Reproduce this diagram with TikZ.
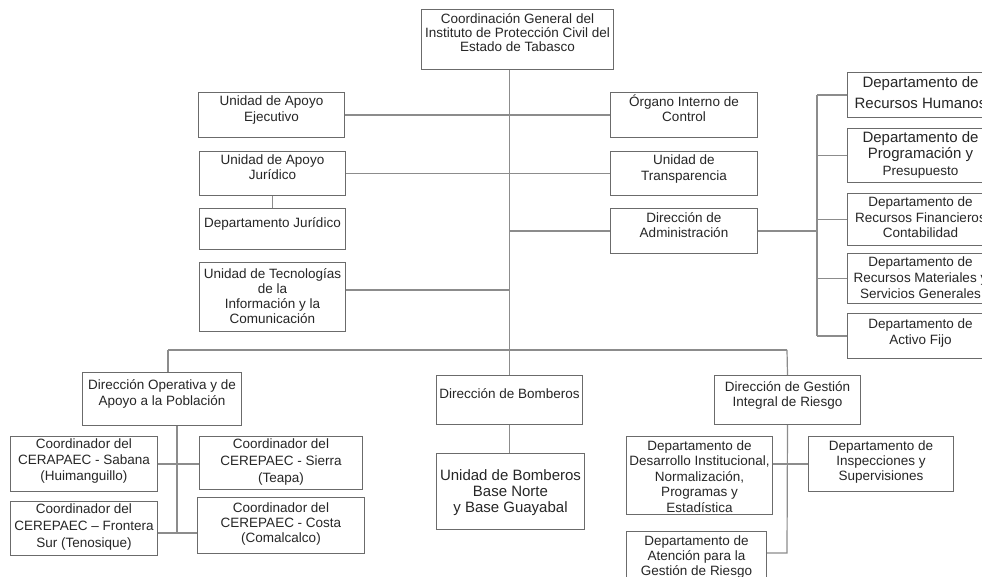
\documentclass[tikz,border=0pt]{standalone}
\usepackage{fontspec}
\setmainfont{Liberation Sans}
\usepackage{xcolor}
\definecolor{boxgray}{gray}{0.42}
\definecolor{linkgray}{gray}{0.55}
\newcommand{\bx}[5][15.5]{\parbox[b][#3pt][t]{#2pt}{\centering\fontsize{13.5}{#1}\selectfont\lineskiplimit=-20pt\rule{0pt}{#4pt}#5\par}}
\tikzset{
  unit/.style={draw=boxgray, line width=1pt, inner sep=0pt, anchor=north west, text=black!85},
  link/.style={draw=linkgray, line width=1.2pt}
}

\begin{document}
\begin{tikzpicture}[x=1pt, y=-1pt]
        \fill[white] (0,0) rectangle (982,577);
        \useasboundingbox (0,0) rectangle (982,577);
        \node[unit] (coord) at (421,9) {\bx[14]{192}{60}{14.5}{Coordinación General del\\Instituto de Protección Civil del\\Estado de Tabasco}};
        \node[unit] (ejec) at (198,92) {\bx[16]{146}{45}{13.5}{Unidad de Apoyo\\Ejecutivo}};
        \node[unit] (jur) at (199,151) {\bx[15]{146}{44}{13.5}{Unidad de Apoyo\\Jurídico}};
        \node[unit] (djur) at (199,208) {\bx{146}{41}{19.5}{Departamento Jurídico}};
        \node[unit] (tic) at (199,262) {\bx[15.3]{146}{69}{15.5}{Unidad de Tecnologías\\de la\\Información y la\\Comunicación}};
        \node[unit] (oic) at (610,92) {\bx[15]{147}{45}{14.5}{Órgano Interno de\\Control}};
        \node[unit] (transp) at (610,151) {\bx[16]{147}{44}{13.5}{Unidad de\\Transparencia}};
        \node[unit] (adm) at (610,208) {\bx[15]{147}{45}{14.5}{Dirección de\\Administración}};
        \node[unit] (rh) at (847,72) {\bx[21]{146}{45}{15}{\fontsize{15}{21}\selectfont Departamento de\\Recursos Humanos}};
        \node[unit] (prog) at (847,128) {\bx[16.5]{146}{54}{14}{\fontsize{15}{16.5}\selectfont Departamento de\\Programación y\\\fontsize{13.5}{16.5}\selectfont Presupuesto}};
        \node[unit] (fin) at (847,193) {\bx[15.5]{146}{52}{13.5}{Departamento de\\Recursos Financieros\\Contabilidad}};
        \node[unit] (mat) at (847,253) {\bx[15.5]{146}{50}{13.5}{Departamento de\\Recursos Materiales y\\Servicios Generales}};
        \node[unit] (fijo) at (847,313) {\bx[16]{146}{45}{14.5}{Departamento de\\Activo Fijo}};
        \node[unit] (oper) at (82,372) {\bx[16]{159}{53}{16.5}{Dirección Operativa y de\\Apoyo a la Población}};
        \node[unit] (bomb) at (436,375) {\bx{146}{49}{22.5}{Dirección de Bomberos}};
        \node[unit] (ubomb) at (436,453) {\bx[16]{148}{76}{27}{\fontsize{15}{16}\selectfont Unidad de Bomberos\\Base Norte\\y Base Guayabal}};
        \node[unit] (gest) at (714,375) {\bx[15]{146}{49}{15.5}{Dirección de Gestión\\Integral de Riesgo}};
        \node[unit] (sab) at (10,436) {\bx[16]{147}{55}{11.5}{Coordinador del\\CERAPAEC - Sabana\\(Huimanguillo)}};
        \node[unit] (sie) at (199,436) {\bx[17]{163}{53}{11.5}{Coordinador del\\CEREPAEC - Sierra\\(Teapa)}};
        \node[unit] (fro) at (10,501) {\bx[17]{147}{54}{11.5}{Coordinador del\\CEREPAEC – Frontera\\Sur (Tenosique)}};
        \node[unit] (cos) at (197,497) {\bx[15]{167}{56}{14.5}{Coordinador del\\CEREPAEC - Costa\\(Comalcalco)}};
        \node[unit] (des) at (626,436) {\bx[15.5]{146}{78}{13.5}{Departamento de\\Desarrollo Institucional,\\Normalización,\\Programas y\\Estadística}};
        \node[unit] (insp) at (808,436) {\bx[15]{145}{55}{13.5}{Departamento de\\Inspecciones y\\Supervisiones}};
        \node[unit] (aten) at (626,531) {\bx[15]{140}{62}{13.5}{Departamento de\\Atención para la\\Gestión de Riesgo}};

        \coordinate (admbus) at (817,231);
        \coordinate (busL) at (168,350);
        \coordinate (busR) at (787,350);
        \coordinate (opbus) at (177,533);
        \coordinate (gestbus) at (787,553);

        \draw[link] (bomb.north |- coord.south) -- (bomb.north);
        \draw[link] (ejec.east) -- (oic.west);
        \draw[link] (jur.east) -- (transp.west);
        \draw[link] (jur.south) -- (djur.north);
        \draw[link] (adm.west) -- (adm.west -| bomb.north);
        \draw[link] ([yshift=7pt]tic.east) -- ([yshift=7pt]tic.east -| bomb.north);
        \draw[link] (adm.east) -- (admbus);
        \draw[link] (rh.west -| admbus) -- (fijo.west -| admbus);
        \foreach \d in {rh,prog,fin,mat,fijo}
          \draw[link] (\d.west) -- (\d.west -| admbus);
        \draw[link] (busL) -- (busR);
        \draw[link] (busL) -- (busL |- oper.north);
        \draw[link] (busR) -- (gest.north);
        \draw[link] (bomb.south) -- (bomb.south |- ubomb.north);
        \draw[link] (oper.south -| opbus) -- (opbus);
        \draw[link] (sab.east) -- (sab.east -| sie.west);
        \draw[link] (opbus -| fro.east) -- (opbus -| cos.west);
        \draw[link] (gest.south) -- (gestbus) -- (gestbus -| aten.east);
        \draw[link] (des.east |- insp.west) -- (insp.west);

      \end{tikzpicture}
\end{document}
